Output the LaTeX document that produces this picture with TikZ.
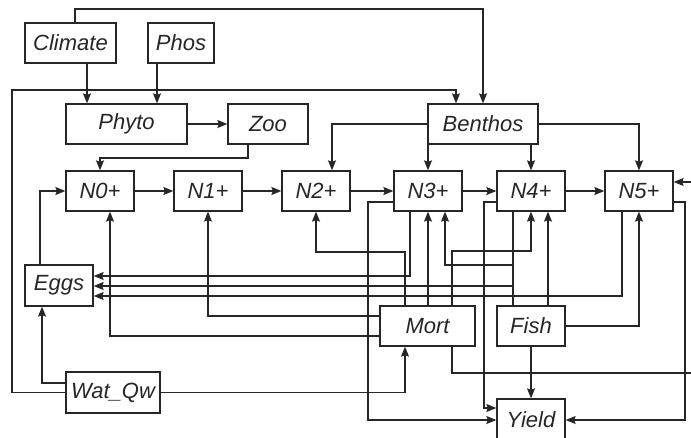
\documentclass[tikz,border=0pt]{standalone}
\usepackage{fontspec}
\setmainfont{Liberation Sans}
\usetikzlibrary{arrows.meta}

\begin{document}
\begin{tikzpicture}[x=1pt, y=-1pt, black!85,
    box/.style={draw, line width=1.3pt, minimum height=40pt, inner sep=0pt,
      font=\fontsize{22}{25}\selectfont\itshape},
    arr/.style={-{Stealth[length=10pt, width=8pt, inset=1.5pt]}, line width=1.2pt},
    ln/.style={line width=1.2pt}]
  \useasboundingbox (0,0) rectangle (691,437);
  \clip (0,0) rectangle (691,437);

  % Drivers and food web
  \node[box, minimum width=91pt] (climate) at (70.5,43) {Climate};
  \node[box, minimum width=66pt] (phos) at (181,43) {Phos};
  \node[box, minimum width=121pt] (phyto) at (126.5,124) {Phyto};
  \node[box, minimum width=80pt] (zoo) at (268,124) {Zoo};
  \node[box, minimum width=110pt] (benthos) at (483,124) {Benthos};

  % Age classes
  \node[box, minimum width=68pt] (n0) at (100,191) {N0+};
  \node[box, minimum width=68pt] (n1) at (208,191) {N1+};
  \node[box, minimum width=68pt] (n2) at (316,191) {N2+};
  \node[box, minimum width=68pt] (n3) at (428,191) {N3+};
  \node[box, minimum width=68pt] (n4) at (531,191) {N4+};
  \node[box, minimum width=68pt] (n5) at (639,191) {N5+};

  % Other boxes
  \node[box, minimum width=68pt, minimum height=41pt] (eggs) at (59,285.5) {Eggs};
  \node[box, minimum width=94pt, minimum height=41pt] (watqw) at (113,392.5) {Wat\_Qw};
  \node[box, minimum width=95pt] (mort) at (427.5,326) {Mort};
  \node[box, minimum width=68pt] (fish) at (531,326) {Fish};
  \node[box, minimum width=68pt, minimum height=42pt] (yield) at (531,420) {Yield};

  % Climate, water quality and nutrients
  \draw[arr] (climate.north -| 75,0) -- (75,9) -| (benthos.north);
  \draw[arr] (watqw.west) -- (12,392.5) |- (456,90) -- (benthos.north -| 456,0);
  \draw[arr] (climate.south -| 87,0) -- (phyto.north -| 87,0);
  \draw[arr] (phos.south -| 157,0) -- (phyto.north -| 157,0);
  \draw[arr] (phyto) -- (zoo);
  \draw[arr] (zoo.south -| 248,0) |- (100,158) -- (n0.north);

  % Benthos
  \draw[arr] (benthos.west) -| (n2.north -| 332,0);
  \draw[arr] (benthos.south -| n3) -- (n3.north);
  \draw[arr] (benthos.south -| n4) -- (n4.north);
  \draw[arr] (benthos.east) -| (n5.north);

  % Ageing
  \draw[arr] (n0) -- (n1);
  \draw[arr] (n1) -- (n2);
  \draw[arr] (n2) -- (n3);
  \draw[arr] (n3) -- (n4);
  \draw[arr] (n4) -- (n5);

  % Spawning
  \draw[arr] (eggs.north -| 40,0) |- (n0.west);
  \draw[arr] (watqw.west |- 0,383) -| (eggs.south -| 42,0);
  \draw[arr] (n3.south -| 410,0) |- (eggs.east |- 0,276);
  \draw[arr] (n4.south -| 513,0) |- (eggs.east |- 0,286);
  \draw[arr] (n5.south -| 622,0) |- (eggs.east |- 0,296);

  % Mortality
  \draw[arr] (watqw.east) -| (mort.south -| 405,0);
  \draw[arr] (mort.west |- 0,336) -| (n0.south -| 110,0);
  \draw[arr] (mort.west |- 0,316) -| (n1.south);
  \draw[arr] (mort.north -| 405,0) |- (316,252) -- (n2.south);
  \draw[arr] (mort.north -| n3) -- (n3.south);
  \draw[arr] (mort.north -| 452,0) |- (531,251) -- (n4.south);
  \draw[arr] (mort.south -| 452,0) |- (694,373) -- (694,182) -- (n5.east |- 0,182);

  % Fishing
  \draw[arr] (fish.north -| 513,0) |- (445,265) -- (n3.south -| 445,0);
  \draw[arr] (fish.north -| 548,0) -- (n4.south -| 548,0);
  \draw[arr] (fish.east) -| (n5.south);
  \draw[arr] (fish) -- (yield);

  % Catch
  \draw[arr] (n3.west |- 0,202) -- (368,202) |- (yield.west);
  \draw[arr] (n4.west |- 0,202) -- (484,202) |- (yield.west |- 0,408);
  \draw[arr] (n5.east |- 0,202) -- (685,202) |- (yield.east);
\end{tikzpicture}
\end{document}
